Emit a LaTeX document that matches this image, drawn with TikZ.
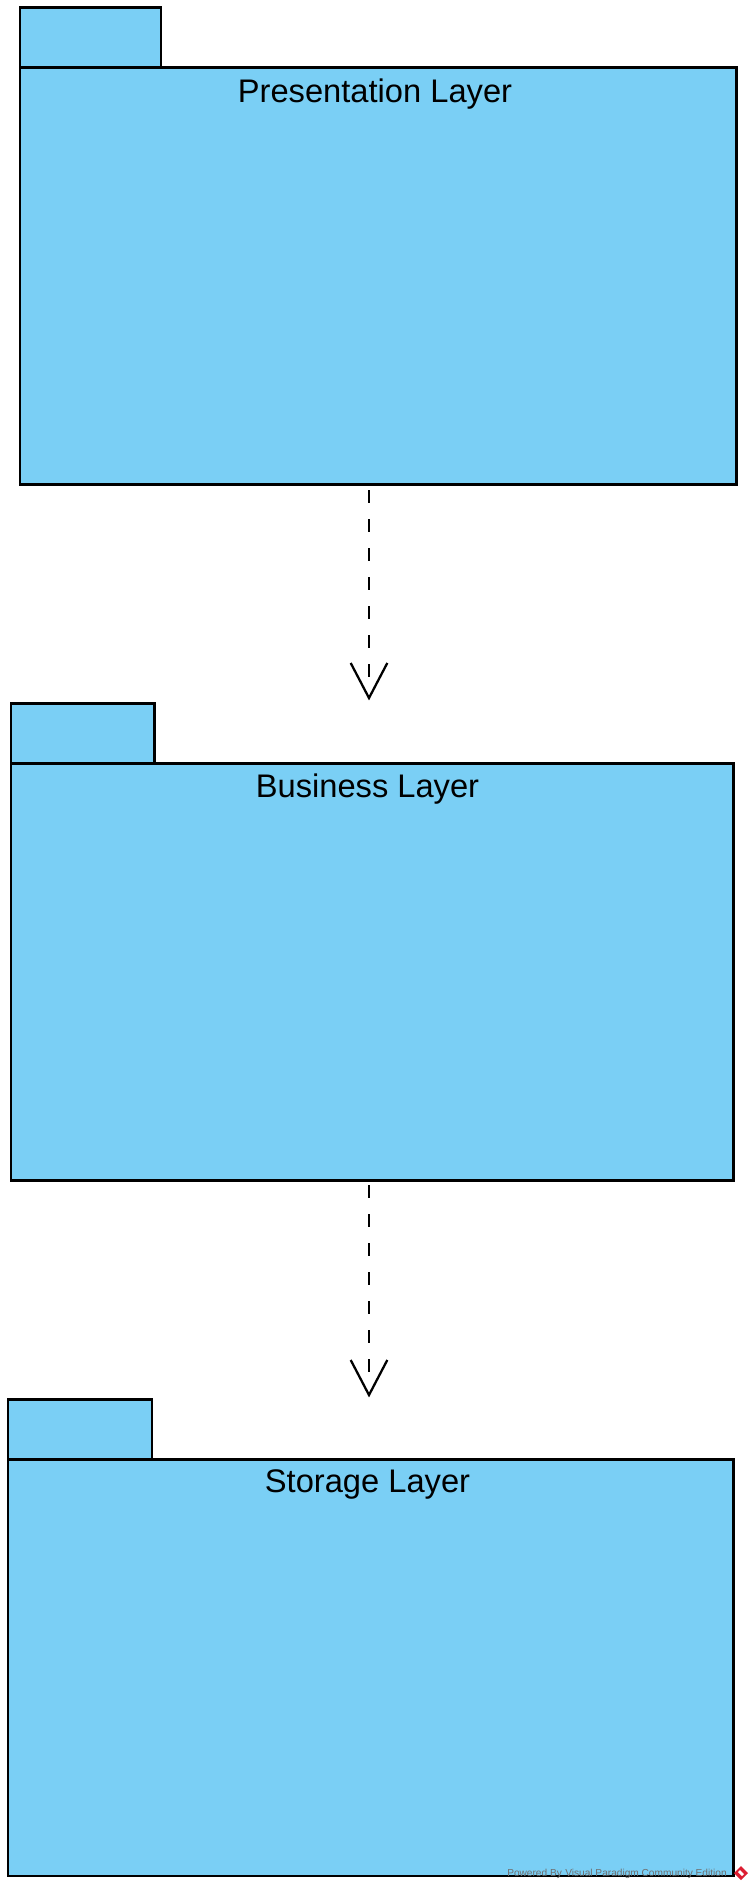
\documentclass[tikz,border=0pt]{standalone}
\usepackage{fontspec}
\setmainfont{Liberation Sans}
\usetikzlibrary{calc}
\definecolor{pkgfill}{RGB}{122,207,245}
\definecolor{wmgray}{RGB}{110,110,110}
\definecolor{wmred}{RGB}{220,30,50}
\begin{document}
\begin{tikzpicture}[x=0.75pt,y=-0.75pt,
  pkg/.style={draw=black,fill=pkgfill,line width=2pt,inner sep=0pt,anchor=north west},
  pkglabel/.style={inner sep=0pt,anchor=base,font=\fontsize{24.5pt}{28pt}\selectfont},
  dep/.style={line width=2pt,dash pattern=on 9.75pt off 12pt},
  barb/.style={line width=1.7pt,line join=miter}]
\useasboundingbox (0,0) rectangle (750,1890);
% Presentation layer
\node[pkg,minimum width={141*0.75pt},minimum height={60.2*0.75pt}] (tab1) at (18.5,6.3) {};
\node[pkg,minimum width={716.5*0.75pt},minimum height={416.5*0.75pt}] (body1) at (18.5,66.5) {};
\node[pkglabel] (lab1) at (375,102.7) {Presentation Layer};
% Business layer
\node[pkg,minimum width={143.3*0.75pt},minimum height={60*0.75pt}] (tab2) at (9.7,702.3) {};
\node[pkg,minimum width={722.5*0.75pt},minimum height={416.7*0.75pt}] (body2) at (9.7,762.3) {};
\node[pkglabel] (lab2) at (367.5,797.3) {Business Layer};
% Storage layer
\node[pkg,minimum width={144*0.75pt},minimum height={60*0.75pt}] (tab3) at (6.5,1398) {};
\node[pkg,minimum width={725.5*0.75pt},minimum height={416.7*0.75pt}] (body3) at (6.5,1458) {};
\node[pkglabel] (lab3) at (367.5,1492) {Storage Layer};
% dependency 1
\coordinate (d1s) at (369,490);
\coordinate (d1e) at (369,680);
\coordinate (d1t) at (369,698);
\coordinate (d1l) at (350.7,663);
\coordinate (d1r) at (387.3,663);
\draw[dep] (d1s) -- (d1e);
\draw[barb] (d1l) -- (d1t) -- (d1r);
% dependency 2
\coordinate (d2s) at (369,1185);
\coordinate (d2e) at (369,1377);
\coordinate (d2t) at (369,1395);
\coordinate (d2l) at (350.7,1360);
\coordinate (d2r) at (387.3,1360);
\draw[dep] (d2s) -- (d2e);
\draw[barb] (d2l) -- (d2t) -- (d2r);
% watermark
\node[inner sep=0pt,anchor=base east,text=wmgray,font=\fontsize{7.6pt}{8pt}\selectfont] (wm) at (727,1876.5) {Powered By\,\,Visual Paradigm Community Edition};
\coordinate (lg) at (741,1873);
\fill[wmred] ($(lg)+(0,-7)$) -- ($(lg)+(7,0)$) -- ($(lg)+(0,7)$) -- ($(lg)+(-7,0)$) -- cycle;
\fill[white] ($(lg)+(-1,-3)$) -- ($(lg)+(3,1)$) -- ($(lg)+(1,3)$) -- ($(lg)+(-3,-1)$) -- cycle;
\end{tikzpicture}
\end{document}
